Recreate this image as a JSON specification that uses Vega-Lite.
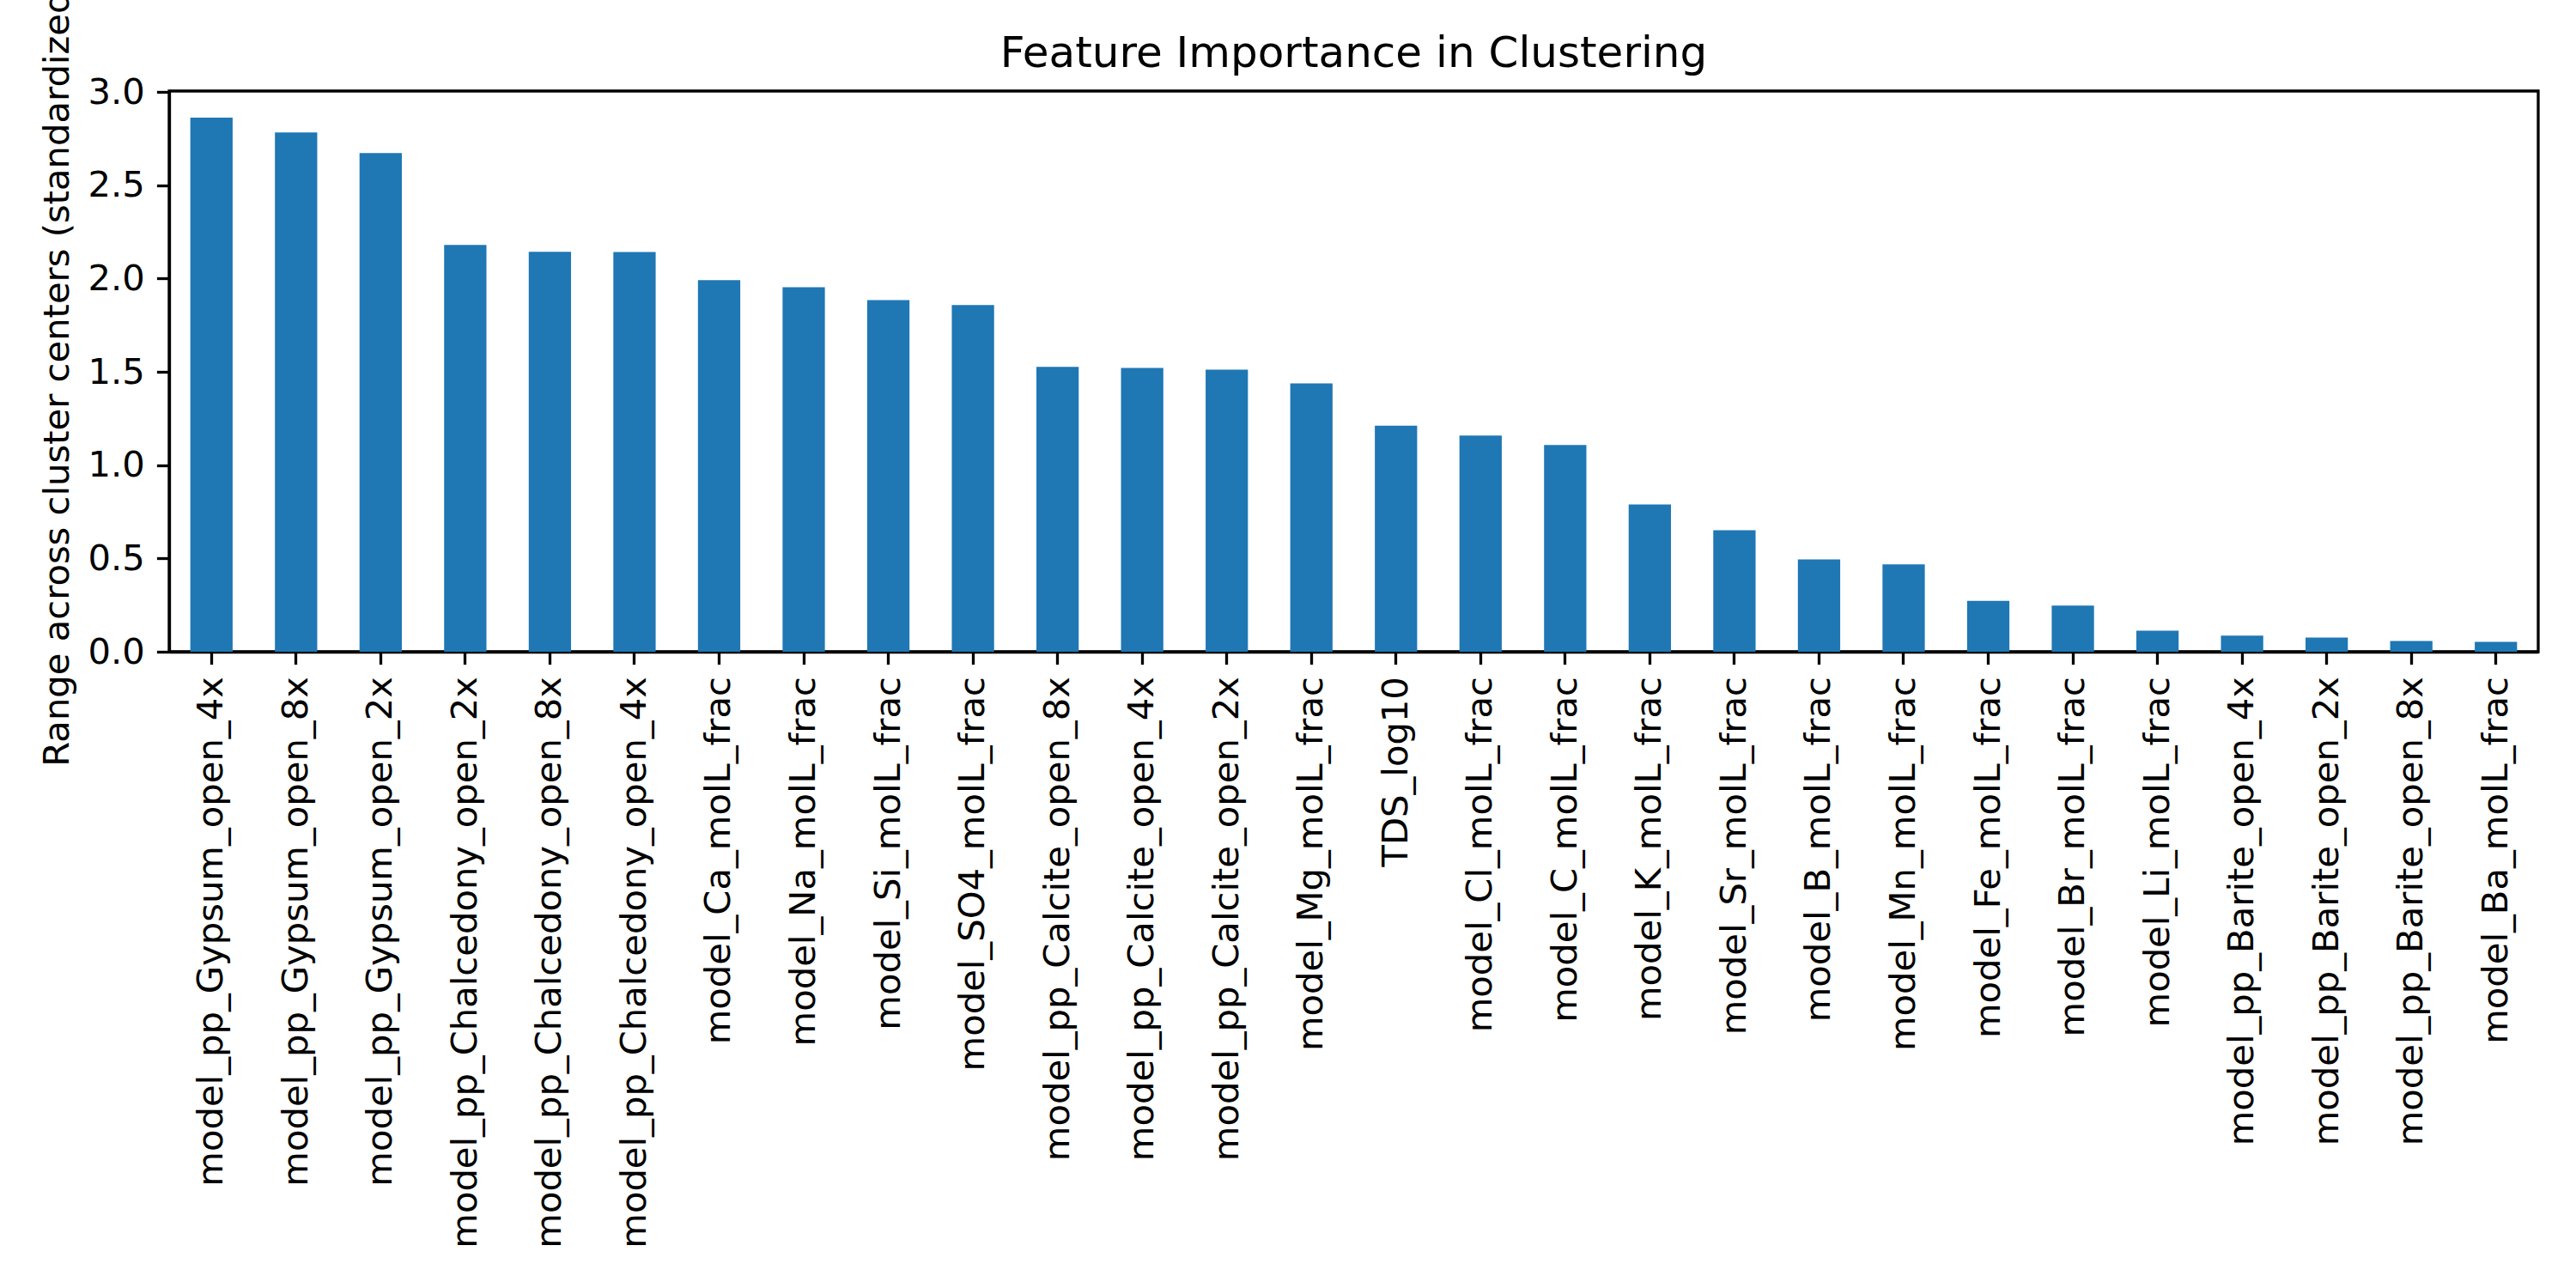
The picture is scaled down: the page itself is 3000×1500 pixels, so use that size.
{
  "$schema": "https://vega.github.io/schema/vega-lite/v6.json",
  "autosize": {"type": "none"},
  "width": 2759,
  "height": 653,
  "padding": {"left": 197, "top": 106, "right": 44, "bottom": 741},
  "background": "white",
  "title": {
    "text": "Feature Importance in Clustering",
    "font": "DejaVu Sans",
    "fontSize": 50,
    "fontWeight": "normal",
    "color": "black",
    "anchor": "middle",
    "frame": "group",
    "baseline": "alphabetic",
    "offset": -155
  },
  "data": {
    "values": [
      {"feature": "model_pp_Gypsum_open_4x", "range": 2.862},
      {"feature": "model_pp_Gypsum_open_8x", "range": 2.783},
      {"feature": "model_pp_Gypsum_open_2x", "range": 2.672},
      {"feature": "model_pp_Chalcedony_open_2x", "range": 2.180},
      {"feature": "model_pp_Chalcedony_open_8x", "range": 2.143},
      {"feature": "model_pp_Chalcedony_open_4x", "range": 2.142},
      {"feature": "model_Ca_molL_frac", "range": 1.991},
      {"feature": "model_Na_molL_frac", "range": 1.954},
      {"feature": "model_Si_molL_frac", "range": 1.884},
      {"feature": "model_SO4_molL_frac", "range": 1.858},
      {"feature": "model_pp_Calcite_open_8x", "range": 1.527},
      {"feature": "model_pp_Calcite_open_4x", "range": 1.521},
      {"feature": "model_pp_Calcite_open_2x", "range": 1.512},
      {"feature": "model_Mg_molL_frac", "range": 1.438},
      {"feature": "TDS_log10", "range": 1.212},
      {"feature": "model_Cl_molL_frac", "range": 1.159},
      {"feature": "model_C_molL_frac", "range": 1.108},
      {"feature": "model_K_molL_frac", "range": 0.789},
      {"feature": "model_Sr_molL_frac", "range": 0.651},
      {"feature": "model_B_molL_frac", "range": 0.495},
      {"feature": "model_Mn_molL_frac", "range": 0.468},
      {"feature": "model_Fe_molL_frac", "range": 0.273},
      {"feature": "model_Br_molL_frac", "range": 0.247},
      {"feature": "model_Li_molL_frac", "range": 0.113},
      {"feature": "model_pp_Barite_open_4x", "range": 0.086},
      {"feature": "model_pp_Barite_open_2x", "range": 0.076},
      {"feature": "model_pp_Barite_open_8x", "range": 0.058},
      {"feature": "model_Ba_molL_frac", "range": 0.053}
    ]
  },
  "mark": {"type": "bar", "color": "#1f77b4"},
  "encoding": {
    "x": {
      "field": "feature",
      "type": "nominal",
      "sort": null,
      "scale": {"paddingInner": 0.5, "paddingOuter": 0.25},
      "axis": {
        "title": null,
        "labelAngle": -90,
        "labelFont": "DejaVu Sans",
        "labelFontSize": 41.7,
        "labelColor": "black",
        "labelPadding": 14,
        "labelLimit": 2000,
        "tickSize": 14.6,
        "tickWidth": 3.3,
        "tickColor": "black",
        "domainColor": "black",
        "domainWidth": 3.3,
        "grid": false
      }
    },
    "y": {
      "field": "range",
      "type": "quantitative",
      "scale": {"domain": [0, 3.005], "nice": false, "zero": true},
      "axis": {
        "title": "Range across cluster centers (standardized)",
        "titleFont": "DejaVu Sans",
        "titleFontSize": 41.7,
        "titleFontWeight": "normal",
        "titleColor": "black",
        "titlePadding": 14,
        "values": [0, 0.5, 1.0, 1.5, 2.0, 2.5, 3.0],
        "format": ".1f",
        "labelFont": "DejaVu Sans",
        "labelFontSize": 41.7,
        "labelColor": "black",
        "labelPadding": 14,
        "tickSize": 14.6,
        "tickWidth": 3.3,
        "tickColor": "black",
        "domainColor": "black",
        "domainWidth": 3.3,
        "grid": false
      }
    }
  },
  "config": {
    "view": {"stroke": "black", "strokeWidth": 3.3}
  }
}
